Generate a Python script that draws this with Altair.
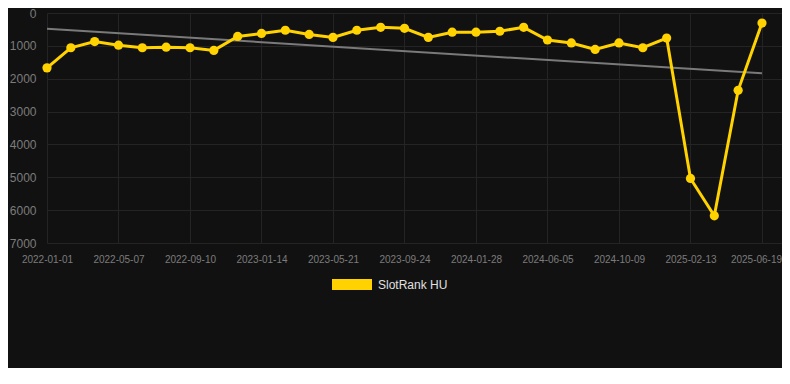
import altair as alt
import pandas as pd

# Values (rank, lower is better; axis reversed)
ranks = [1670, 1058, 870, 980, 1058, 1040, 1058, 1138, 712, 623, 525, 653, 742,
         525, 436, 466, 742, 585, 585, 555, 436, 822, 911, 1108, 911, 1058, 763,
         5035, 6172, 2353, 306]
tick_labels = ["2022-01-01", "2022-05-07", "2022-09-10", "2023-01-14", "2023-05-21",
               "2023-09-24", "2024-01-28", "2024-06-05", "2024-10-09", "2025-02-13",
               "2025-06-19"]
y_ticks = [0, 1000, 2000, 3000, 4000, 5000, 6000, 7000]
series_name = "SlotRank HU"

df = pd.DataFrame({
    "i": list(range(len(ranks))),
    "rank": ranks,
    "series": [series_name] * len(ranks),
})

FONT = "Liberation Sans"
label_array = "[" + ",".join("'%s'" % t for t in tick_labels) + "]"
step = (len(ranks) - 1) // (len(tick_labels) - 1)
last_i = len(ranks) - 1

x_enc = alt.X(
    "i:Q",
    scale=alt.Scale(domain=[0, 30.84], nice=False, zero=False),
    axis=alt.Axis(
        values=list(range(0, len(ranks), step)),
        labelExpr=label_array + "[round(datum.value/%d)]" % step,
        title=None, ticks=False, domain=False, labelPadding=11,
        labelFontSize=10, labelColor="#7c7c7c", labelFont=FONT,
        gridColor="#242424", labelFlush=False,
        labelOffset=alt.condition("datum.value >= %d" % last_i, alt.value(-6), alt.value(0)),
    ),
)
y_enc = alt.Y(
    "rank:Q",
    scale=alt.Scale(domain=[0, 7000], reverse=True, nice=False),
    axis=alt.Axis(
        values=y_ticks, format="d", title=None, ticks=False, domain=False,
        labelPadding=11, labelFontSize=12, labelColor="#7c7c7c", labelFont=FONT,
        gridColor="#242424",
    ),
)

trend = alt.Chart(df).transform_regression("i", "rank").mark_line(
    color="#7a7a7a", strokeWidth=2
).encode(x=x_enc, y=y_enc)

line = alt.Chart(df).mark_line(
    strokeWidth=3,
    point=alt.OverlayMarkDef(filled=True, size=85, strokeWidth=0),
).encode(
    x=x_enc,
    y=y_enc,
    color=alt.Color(
        "series:N",
        scale=alt.Scale(domain=[series_name], range=["#FFD200"]),
        legend=alt.Legend(
            title=None, orient="none", legendX=285, legendY=251.5,
            direction="horizontal", symbolType="M-1,-0.275H1V0.275H-1Z",
            symbolSize=1600, symbolStrokeWidth=0, symbolOpacity=1,
            labelFontSize=12, labelColor="#e0e0e0", labelFont=FONT,
            labelOffset=6, padding=0,
        ),
    ),
)

chart = alt.layer(trend, line).properties(
    width=735, height=230,
    autosize=alt.AutoSizeParams(type="none"),
    padding={"left": 39, "top": 5, "right": 0, "bottom": 125},
    background="#111111",
).configure_view(stroke=None)

chart.save("out.html", embed_options={"renderer": "svg", "actions": False})
